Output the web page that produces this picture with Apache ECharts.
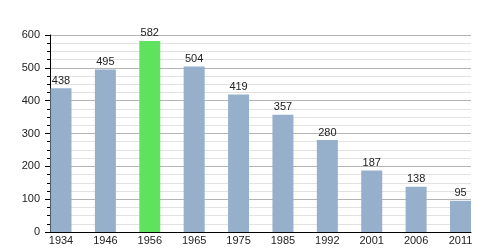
<!DOCTYPE html>
<html><head><meta charset="utf-8">
<script src="https://cdn.jsdelivr.net/npm/echarts@6/dist/echarts.min.js"></script>
<style>html,body{margin:0;padding:0;background:#fff}#c{width:500px;height:250px}</style>
</head><body><div id="c"></div>
<script>
const years = ['1934','1946','1956','1965','1975','1985','1992','2001','2006','2011'];
const population = [438, 495, 582, 504, 419, 357, 280, 187, 138, 95];
const highlightYear = '1956';
const yTicks = [0, 100, 200, 300, 400, 500, 600];

const chart = echarts.init(document.getElementById('c'), null, {renderer: 'canvas'});
const font = 'Liberation Sans, Arial, sans-serif';
chart.setOption({
  animation: false,
  grid: [
    {left: 50, right: 29, top: 35, bottom: 18},
    {left: 38.8, right: 17.3, top: 35, bottom: 18}
  ],
  xAxis: [
    {type: 'value', gridIndex: 0, min: 0, max: 1, axisLine: {show: true, onZero: false, lineStyle: {color: '#000', width: 1}},
     axisTick: {show: false}, axisLabel: {show: false}, splitLine: {show: false}},
    {type: 'category', gridIndex: 1, data: years, boundaryGap: true,
     axisLine: {show: false}, axisTick: {show: false},
     axisLabel: {color: '#222', fontFamily: font, fontSize: 11, margin: 3}}
  ],
  yAxis: [
    {type: 'value', gridIndex: 0, min: yTicks[0], max: yTicks[yTicks.length-1], interval: 100,
     axisLine: {show: true, lineStyle: {color: '#000'}},
     axisTick: {show: true, length: 5, lineStyle: {color: '#000'}},
     minorTick: {show: true, splitNumber: 4, length: 3, lineStyle: {color: '#000'}},
     axisLabel: {color: '#222', fontFamily: font, fontSize: 11, margin: 10},
     splitLine: {show: true, lineStyle: {color: '#b4b4b4', width: 1}},
     minorSplitLine: {show: true, lineStyle: {color: '#e2e2e2', width: 1}}},
    {type: 'value', gridIndex: 1, min: yTicks[0], max: yTicks[yTicks.length-1], show: false}
  ],
  series: [{
    type: 'bar', xAxisIndex: 1, yAxisIndex: 1, barWidth: 21,
    data: population.map((v, i) => ({value: v, itemStyle: {color: years[i] === highlightYear ? '#5fe35f' : '#96afcb'}})),
    label: {show: true, position: 'top', distance: 2, color: '#222', fontFamily: font, fontSize: 11}
  }]
});
</script></body></html>
